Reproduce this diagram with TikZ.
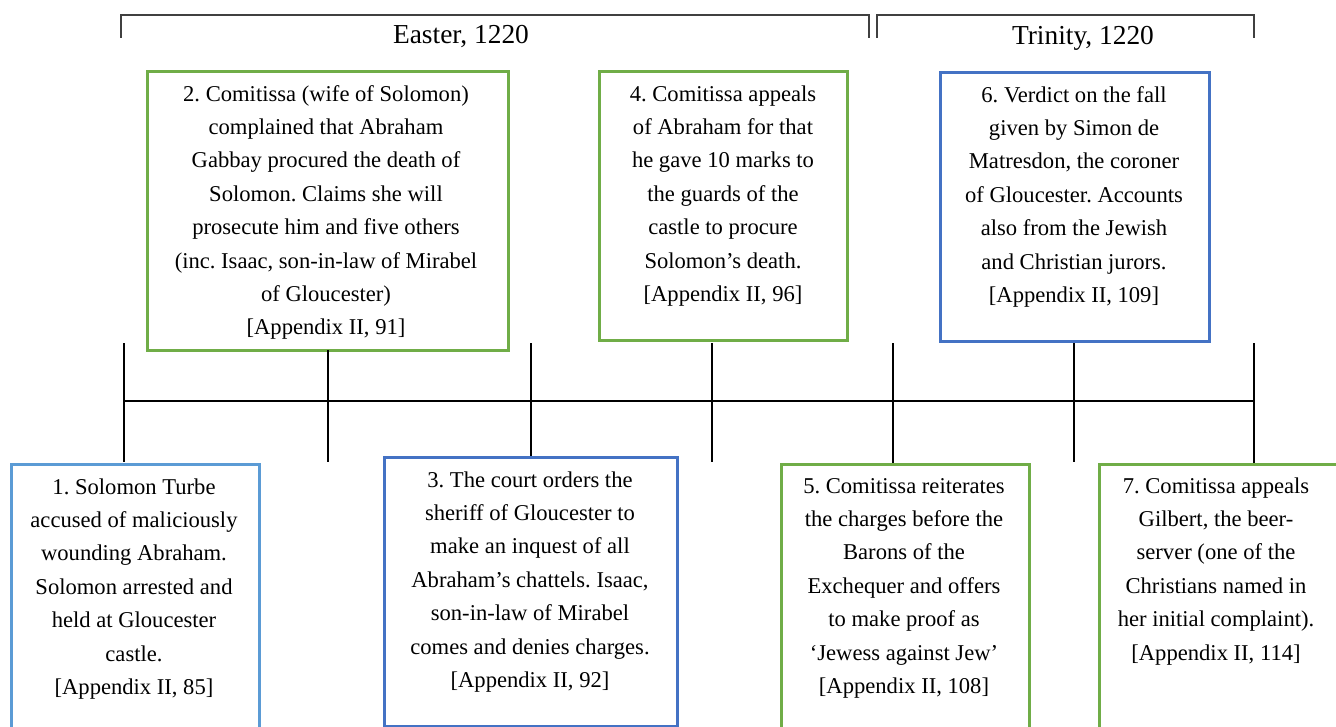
\documentclass[tikz,border=0pt]{standalone}
\usepackage{fontspec}
\setmainfont{Liberation Serif}
\frenchspacing
\definecolor{grn}{HTML}{70AD47}
\definecolor{blu}{HTML}{4472C4}
\definecolor{lblu}{HTML}{5B9BD5}
\begin{document}
\begin{tikzpicture}[x=1pt,y=-1pt,
  card/.style={draw=#1, line width=2.6pt, anchor=north west, inner sep=0pt},
  txt/.style={anchor=north, align=center, inner sep=0pt,
    font=\fontsize{22.6}{33.4}\selectfont\frenchspacing},
  term/.style={anchor=base, inner sep=0pt, font=\fontsize{27.4}{32}\selectfont},
  tick/.style={line width=2pt, black},
  axis/.style={line width=1.3pt, black},
  brack/.style={line width=1.3pt, black!75}]
\clip (0,0) rectangle (1336,727);
\fill[white] (0,0) rectangle (1336,727);

% period brackets
\coordinate (e1) at (121,38); \coordinate (e2) at (121,15);
\coordinate (e3) at (869,15); \coordinate (e4) at (869,38);
\coordinate (r1) at (877,38); \coordinate (r2) at (877,15);
\coordinate (r3) at (1254,15); \coordinate (r4) at (1254,38);
\draw[brack] (e1) -- (e2) -- (e3) -- (e4);
\draw[brack] (r1) -- (r2) -- (r3) -- (r4);
\node[term] (easter) at (461,44) {Easter, 1220};
\node[term] (trinity) at (1083,45) {Trinity, 1220};

% boxes
\node[card=lblu, minimum width=248pt, minimum height=290pt] (b1) at (10,463) {};
\node[card=grn, minimum width=361pt, minimum height=279pt] (b2) at (146,70) {};
\node[card=blu, minimum width=293pt, minimum height=269pt] (b3) at (383,456) {};
\node[card=grn, minimum width=248pt, minimum height=269pt] (b4) at (598,70) {};
\node[card=grn, minimum width=248pt, minimum height=290pt] (b5) at (780,463) {};
\node[card=blu, minimum width=269pt, minimum height=269pt] (b6) at (939,71) {};
\node[card=grn, minimum width=260pt, minimum height=290pt] (b7) at (1098,463) {};

% texts (first baseline = y + 23.4)
\node[txt] (t1) at (134,470.6) {\strut 1. Solomon Turbe\\accused of maliciously\\wounding Abraham.\\Solomon arrested and\\held at Gloucester\\castle.\\{[Appendix II, 85]}};
\node[txt] (t2) at (326,77.6) {\strut 2. Comitissa (wife of Solomon)\\complained that Abraham\\Gabbay procured the death of\\Solomon. Claims she will\\prosecute him and five others\\(inc. Isaac, son-in-law of Mirabel\\of Gloucester)\\{[Appendix II, 91]}};
\node[txt] (t3) at (530,463.6) {\strut 3. The court orders the\\sheriff of Gloucester to\\make an inquest of all\\Abraham’s chattels. Isaac,\\son-in-law of Mirabel\\comes and denies charges.\\{[Appendix II, 92]}};
\node[txt] (t4) at (723,77.6) {\strut 4. Comitissa appeals\\of Abraham for that\\he gave 10 marks to\\the guards of the\\castle to procure\\Solomon’s death.\\{[Appendix II, 96]}};
\node[txt] (t5) at (904,469.6) {\strut 5. Comitissa reiterates\\the charges before the\\Barons of the\\Exchequer and offers\\to make proof as\\‘Jewess against Jew’\\{[Appendix II, 108]}};
\node[txt] (t6) at (1074,78.6) {\strut 6. Verdict on the fall\\given by Simon de\\Matresdon, the coroner\\of Gloucester. Accounts\\also from the Jewish\\and Christian jurors.\\{[Appendix II, 109]}};
\node[txt] (t7) at (1216,469.6) {\strut 7. Comitissa appeals\\Gilbert, the beer-\\server (one of the\\Christians named in\\her initial complaint).\\{[Appendix II, 114]}};

% timeline
\coordinate (a0) at (124,401); \coordinate (a1) at (1254,401);
\draw[axis] (a0) -- (a1);
\foreach \i/\x/\ya/\yb in {1/124/343/462, 2/328/350/462, 3/531/343/456, 4/712/343/462, 5/893/343/463, 6/1074/343/462, 7/1254/343/463}{
  \coordinate (p\i) at (\x,\ya);
  \coordinate (q\i) at (\x,\yb);
  \draw[tick] (p\i) -- (q\i);
}
\end{tikzpicture}
\end{document}
